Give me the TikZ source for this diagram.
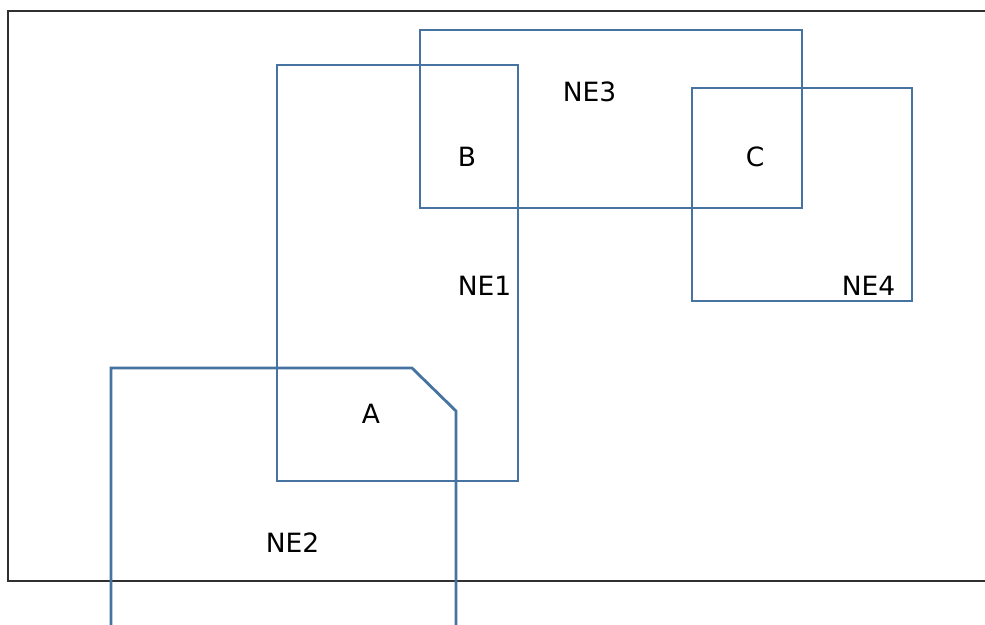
\documentclass[tikz,border=0pt]{standalone}
\usepackage{fontspec}
\setmainfont{DejaVu Sans}
\definecolor{zone}{HTML}{4673A1}
\definecolor{frame}{HTML}{303030}
\begin{document}
\begin{tikzpicture}[x=1pt,y=-1pt,
  zoneline/.style={draw=zone,line width=2.8pt,line join=miter},
  lbl/.style={font=\fontsize{26.5}{29}\selectfont,text=black,inner sep=0pt}]
\useasboundingbox (0,0) rectangle (985,624);
\clip (0,0) rectangle (985,624);
\fill[white] (0,0) rectangle (985,624);
\draw[frame,line width=1.3pt] (1100,11) -- (8,11) -- (8,581) -- (1100,581);
% NE1
\draw[zoneline] (277,65) rectangle (518,481);
% NE3
\draw[zoneline] (420,30) rectangle (802,208);
% NE4
\draw[zoneline] (692,88) rectangle (912,301);
% NE2
\draw[zoneline] (111,640) -- (111,368) -- (412,368) -- (456,411) -- (456,640);
\node[lbl] (ne3) at (589.5,92) {NE3};
\node[lbl] (b) at (467,157) {B};
\node[lbl] (c) at (755,157) {C};
\node[lbl] (ne1) at (484.5,286) {NE1};
\node[lbl] (ne4) at (868.5,286) {NE4};
\node[lbl] (a) at (371,414) {A};
\node[lbl] (ne2) at (292.5,543) {NE2};
\end{tikzpicture}
\end{document}
